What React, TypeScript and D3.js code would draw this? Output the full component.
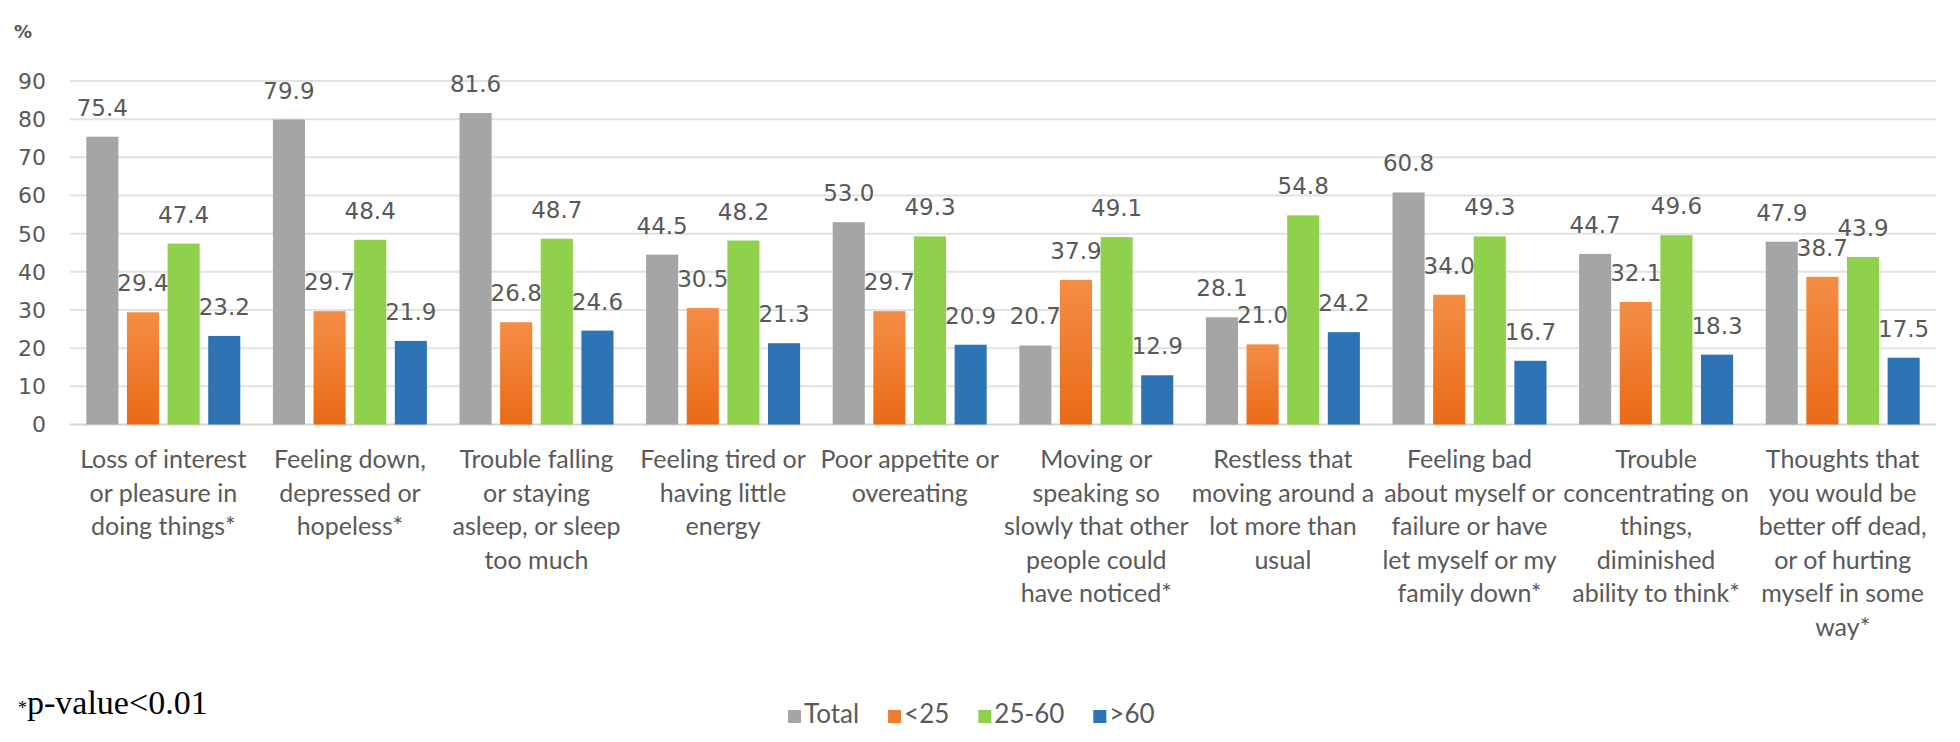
import React, { useEffect, useRef } from "react";
import * as d3 from "d3";

const categoryLines: string[][] = [
  ["Loss of interest", "or pleasure in", "doing things*"],
  ["Feeling down,", "depressed or", "hopeless*"],
  ["Trouble falling", "or staying", "asleep, or sleep", "too much"],
  ["Feeling tired or", "having little", "energy"],
  ["Poor appetite or", "overeating"],
  ["Moving or", "speaking so", "slowly that other", "people could", "have noticed*"],
  ["Restless that", "moving around a", "lot more than", "usual"],
  ["Feeling bad", "about myself or", "failure or have", "let myself or my", "family down*"],
  ["Trouble", "concentrating on", "things,", "diminished", "ability to think*"],
  ["Thoughts that", "you would be", "better off dead,", "or of hurting", "myself in some", "way*"],
];

const seriesNames = ["Total", "<25", "25-60", ">60"];
const totalValues = [75.4, 79.9, 81.6, 44.5, 53.0, 20.7, 28.1, 60.8, 44.7, 47.9];
const under25Values = [29.4, 29.7, 26.8, 30.5, 29.7, 37.9, 21.0, 34.0, 32.1, 38.7];
const age25to60Values = [47.4, 48.4, 48.7, 48.2, 49.3, 49.1, 54.8, 49.3, 49.6, 43.9];
const over60Values = [23.2, 21.9, 24.6, 21.3, 20.9, 12.9, 24.2, 16.7, 18.3, 17.5];
const yTicks = [0, 10, 20, 30, 40, 50, 60, 70, 80, 90];

const seriesColors = ["#a5a5a5", "url(#orangeGrad)", "#8fd14c", "#2e74b5"];
const legendColors = ["#a5a5a5", "#ed7d31", "#8fd14c", "#2e74b5"];

export default function App() {
  const ref = useRef<SVGSVGElement | null>(null);

  useEffect(() => {
    const svg = d3.select(ref.current);
    svg.selectAll("*").remove();

    const W = 1960;
    const H = 742;
    const left = 70;
    const right = 1936;
    const top = 81;
    const bottom = 424.5;
    const textColor = "#595959";
    const numFont = "'DejaVu Sans', sans-serif";
    const labelFont = "Lato, sans-serif";

    svg.attr("width", W).attr("height", H);

    const defs = svg.append("defs");
    const grad = defs
      .append("linearGradient")
      .attr("id", "orangeGrad")
      .attr("x1", 0)
      .attr("y1", 0)
      .attr("x2", 0)
      .attr("y2", 1);
    grad.append("stop").attr("offset", "0%").attr("stop-color", "#f48d45");
    grad.append("stop").attr("offset", "100%").attr("stop-color", "#ea6a16");

    svg.append("rect").attr("width", W).attr("height", H).attr("fill", "#ffffff");

    const series = [totalValues, under25Values, age25to60Values, over60Values];
    const indices = categoryLines.map((_, i) => i);

    const x0 = d3.scaleBand<number>().domain(indices).range([left, right]).paddingInner(0).paddingOuter(0);
    const bw = x0.bandwidth();
    const x1 = d3
      .scaleBand<number>()
      .domain([0, 1, 2, 3])
      .range([16.3, bw - 16.3])
      .paddingInner(0.21)
      .paddingOuter(0);
    const y = d3.scaleLinear().domain([0, 90]).range([bottom, top]);

    // gridlines
    const grid = svg.append("g");
    grid
      .selectAll("line")
      .data(yTicks)
      .join("line")
      .attr("x1", left)
      .attr("x2", right)
      .attr("y1", (d) => y(d))
      .attr("y2", (d) => y(d))
      .attr("stroke", (d) => (d === 0 ? "#d4d4d4" : "#e2e2e2"))
      .attr("stroke-width", 2);

    // y tick labels
    svg
      .append("g")
      .selectAll("text")
      .data(yTicks)
      .join("text")
      .attr("x", 46)
      .attr("y", (d) => y(d))
      .attr("dy", "0.36em")
      .attr("text-anchor", "end")
      .attr("font-family", numFont)
      .attr("font-size", 22)
      .attr("fill", textColor)
      .text((d) => String(d));

    svg
      .append("text")
      .attr("x", 14)
      .attr("y", 38)
      .attr("font-family", numFont)
      .attr("font-size", 18)
      .attr("font-weight", 600)
      .attr("fill", textColor)
      .text("%");

    // bars
    const groups = svg
      .append("g")
      .selectAll("g")
      .data(indices)
      .join("g")
      .attr("transform", (i) => `translate(${x0(i)},0)`);

    groups
      .selectAll("rect")
      .data((i) => series.map((s, k) => ({ k, v: s[i] })))
      .join("rect")
      .attr("x", (d) => x1(d.k) as number)
      .attr("width", x1.bandwidth())
      .attr("y", (d) => y(d.v))
      .attr("height", (d) => bottom - y(d.v))
      .attr("fill", (d) => seriesColors[d.k]);

    groups
      .selectAll("text.val")
      .data((i) => series.map((s, k) => ({ k, v: s[i] })))
      .join("text")
      .attr("class", "val")
      .attr("x", (d) => (x1(d.k) as number) + x1.bandwidth() / 2)
      .attr("y", (d) => y(d.v) - 21)
      .attr("text-anchor", "middle")
      .attr("font-family", numFont)
      .attr("font-size", 23)
      .attr("fill", textColor)
      .text((d) => d.v.toFixed(1));

    // category labels
    const cat = svg
      .append("g")
      .selectAll("text")
      .data(indices)
      .join("text")
      .attr("text-anchor", "middle")
      .attr("font-family", labelFont)
      .attr("font-size", 25)
      .attr("fill", textColor);
    cat
      .selectAll("tspan")
      .data((i) => categoryLines[i].map((line, j) => ({ i, line, j })))
      .join("tspan")
      .attr("x", (d) => (x0(d.i) as number) + bw / 2)
      .attr("y", (d) => 468 + d.j * 33.5)
      .text((d) => d.line);

    // legend
    const legend = svg.append("g");
    let lx = 788;
    seriesNames.forEach((name, k) => {
      legend
        .append("rect")
        .attr("x", lx)
        .attr("y", 710)
        .attr("width", 13)
        .attr("height", 13)
        .attr("fill", legendColors[k]);
      const t = legend
        .append("text")
        .attr("x", lx + 16)
        .attr("y", 723)
        .attr("font-family", labelFont)
        .attr("font-size", 26)
        .attr("fill", textColor)
        .text(name);
      const w = (t.node() as SVGTextElement).getComputedTextLength();
      lx = lx + 16 + w + 29;
    });

    // footnote
    const fn = svg
      .append("text")
      .attr("x", 18)
      .attr("y", 714)
      .attr("font-family", "'Liberation Serif', 'Times New Roman', serif")
      .attr("font-size", 34)
      .attr("fill", "#000000");
    fn.append("tspan").attr("font-size", 18).text("*");
    fn.append("tspan").text("p-value<0.01");
  }, []);

  return (
    <svg
      ref={ref}
      width={1960}
      height={742}
      style={{ position: "absolute", left: 0, top: 0, display: "block" }}
    />
  );
}
